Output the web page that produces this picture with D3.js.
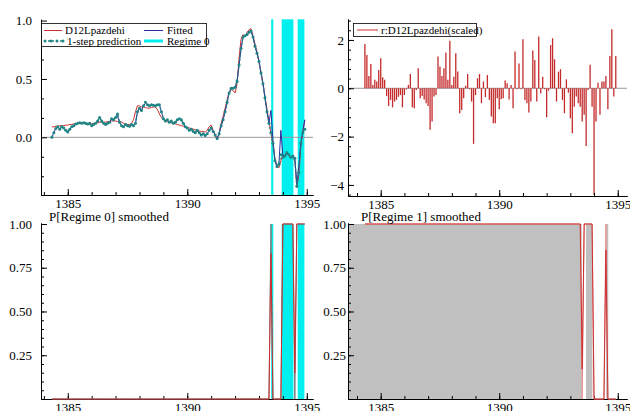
<!DOCTYPE html>
<html>
<head>
<meta charset="utf-8">
<script src="https://cdn.jsdelivr.net/npm/d3@7"></script>
<style>
  body { margin: 0; background: #fff; }
  svg { display: block; }
</style>
</head>
<body>
<svg id="chart" width="630" height="411"></svg>
<script>
// Monthly sample, first observation 1384(5)
const startYear = 1384;
const startMonth = 5;

// D12Lpazdehi (actual)
const actual = [
  0.09, 0.09, 0.095, 0.095, 0.10, 0.10, 0.10, 0.105, 0.105, 0.11,
  0.11, 0.115, 0.115, 0.12, 0.12, 0.12, 0.12, 0.115, 0.115, 0.11,
  0.115, 0.12, 0.12, 0.125, 0.13, 0.13, 0.13, 0.13, 0.135, 0.135,
  0.14, 0.14, 0.14, 0.135, 0.135, 0.13, 0.12, 0.115, 0.11, 0.11,
  0.12, 0.15, 0.22, 0.27, 0.27, 0.26, 0.26, 0.255, 0.25, 0.25,
  0.255, 0.26, 0.26, 0.24, 0.20, 0.17, 0.15, 0.14, 0.135, 0.13,
  0.125, 0.12, 0.115, 0.11, 0.105, 0.10, 0.095, 0.09, 0.085, 0.08,
  0.075, 0.07, 0.065, 0.06, 0.055, 0.05, 0.05, 0.045, 0.06, 0.09,
  0.105, 0.06, 0.02, -0.02, 0.04, 0.12, 0.18, 0.25, 0.32, 0.39,
  0.41, 0.40, 0.38, 0.46, 0.68, 0.84, 0.88, 0.86, 0.90, 0.92,
  0.93, 0.87, 0.80, 0.73, 0.65, 0.56, 0.46, 0.35, 0.24, 0.14,
  0.04, -0.06, -0.18, -0.24, -0.26, -0.20, -0.16, -0.15, -0.14, -0.15,
  -0.17, -0.17, -0.20, -0.43, -0.32, -0.08, 0.06, 0.15
];

// Fitted
const fitted = [
  0.00, 0.04, 0.075, 0.09, 0.07, 0.09, 0.08, 0.06, 0.045, 0.07,
  0.09, 0.10, 0.115, 0.12, 0.125, 0.12, 0.125, 0.12, 0.115, 0.12,
  0.10, 0.11, 0.12, 0.14, 0.17, 0.14, 0.12, 0.11, 0.12, 0.13,
  0.16, 0.15, 0.17, 0.18, 0.13, 0.10, 0.09, 0.11, 0.10, 0.095,
  0.11, 0.10, 0.12, 0.22, 0.25, 0.23, 0.27, 0.29, 0.28, 0.27,
  0.28, 0.275, 0.27, 0.28, 0.28, 0.22, 0.16, 0.14, 0.15, 0.13,
  0.14, 0.12, 0.13, 0.15, 0.16, 0.15, 0.12, 0.09, 0.08, 0.06,
  0.07, 0.05, 0.04, 0.06, 0.04, 0.02, 0.03, 0.015, 0.03, 0.06,
  0.08, 0.05, 0.02, -0.01, 0.03, 0.10, 0.15, 0.22, 0.30, 0.38,
  0.42, 0.42, 0.43, 0.48, 0.62, 0.76, 0.86, 0.87, 0.88, 0.90,
  0.91, 0.86, 0.78, 0.72, 0.65, 0.55, 0.46, 0.34, 0.22, 0.12,
  0.23, -0.02, -0.20, -0.25, -0.23, 0.06, -0.16, -0.16, -0.13, -0.15,
  -0.17, -0.16, -0.18, -0.40, -0.25, -0.05, 0.04, 0.15
];

// 1-step prediction
const predicted = [
  0.00, 0.04, 0.075, 0.09, 0.07, 0.09, 0.08, 0.06, 0.045, 0.07,
  0.09, 0.10, 0.115, 0.12, 0.125, 0.12, 0.125, 0.12, 0.115, 0.12,
  0.10, 0.11, 0.12, 0.14, 0.17, 0.14, 0.12, 0.11, 0.12, 0.13,
  0.16, 0.15, 0.17, 0.20, 0.13, 0.10, 0.09, 0.11, 0.10, 0.095,
  0.11, 0.10, 0.12, 0.22, 0.25, 0.23, 0.27, 0.30, 0.28, 0.27,
  0.28, 0.275, 0.27, 0.28, 0.28, 0.22, 0.16, 0.14, 0.15, 0.13,
  0.14, 0.12, 0.13, 0.15, 0.16, 0.15, 0.12, 0.09, 0.08, 0.06,
  0.07, 0.05, 0.04, 0.06, 0.04, 0.02, 0.03, 0.015, 0.03, 0.06,
  0.08, 0.05, 0.02, -0.01, 0.03, 0.10, 0.15, 0.22, 0.30, 0.38,
  0.42, 0.42, 0.43, 0.48, 0.62, 0.76, 0.86, 0.87, 0.88, 0.90,
  0.91, 0.86, 0.78, 0.72, 0.65, 0.55, 0.46, 0.34, 0.22, 0.12,
  0.04, -0.05, -0.20, -0.25, -0.23, -0.15, -0.17, -0.16, -0.13, -0.15,
  -0.17, -0.16, -0.18, -0.42, -0.30, -0.05, 0.04, 0.07
];

// r:D12Lpazdehi (scaled residuals)
const residuals = [
  1.83, 1.38, 0.51, 1.00, 0.14, 0.35, 0.28, 0.76, 1.24, 0.46,
  0.35, -0.32, -0.73, -0.48, -0.79, -0.55, -0.48, -0.35, -0.28, -0.79,
  -0.28, -0.05, 0.14, 0.59, -0.79, -0.83, -0.07, 0.83, -0.41, -0.32,
  -0.46, -0.62, -0.73, -1.72, -1.38, -0.34, -0.28, 1.31, 0.90, 0.51,
  0.83, 1.48, 0.35, 1.97, 0.14, 0.48, 1.45, 0.69, -1.03, -0.90,
  -0.41, 0.10, 0.59, -0.04, -0.55, -2.30, -0.28, 0.41, 0.59, -0.62,
  0.28, -0.37, 0.55, -0.48, -1.17, -1.45, -1.45, -0.41, -0.87, -0.45,
  -0.41, 0.32, 0.21, -0.46, 0.14, -0.83, 1.52, -0.04, 1.03, -0.04,
  2.03, -0.48, -0.62, -1.00, -0.55, 1.56, 1.17, -0.55, 2.14, -0.21,
  0.48, -0.04, -1.20, -0.10, 1.79, 2.07, 1.20, -0.55, 0.69, 0.79,
  -0.48, -1.03, 0.37, -0.18, -1.24, -1.86, -0.76, -0.34, -0.62, -0.76,
  -1.38, -1.10, -2.39, -0.07, 0.97, -0.76, -4.41, -1.38, 0.23, -1.10,
  0.28, 0.28, 0.51, -0.87, 1.34, 2.44, -0.34, 1.34
];

// P[Regime 0] smoothed (red) and second probability line (grey)
const p0Smoothed = [
  0, 0, 0, 0, 0, 0, 0, 0, 0, 0, 0, 0, 0, 0, 0, 0,
  0, 0, 0, 0, 0, 0, 0, 0, 0, 0, 0, 0, 0, 0, 0, 0,
  0, 0, 0, 0, 0, 0, 0, 0, 0, 0, 0, 0, 0, 0, 0, 0,
  0, 0, 0, 0, 0, 0, 0, 0, 0, 0, 0, 0, 0, 0, 0, 0,
  0, 0, 0, 0, 0, 0, 0, 0, 0, 0, 0, 0, 0, 0, 0, 0,
  0, 0, 0, 0, 0, 0, 0, 0, 0, 0, 0, 0, 0, 0, 0, 0,
  0, 0, 0, 0, 0, 0, 0, 0, 0, 0, 0, 0, 0, 0, 0.83, 0,
  0, 0, 0, 0, 1, 1, 1, 1, 1, 1, 0.15, 1, 1, 1, 1, 1
];
const p0Grey = [
  0, 0, 0, 0, 0, 0, 0, 0, 0, 0, 0, 0, 0, 0, 0, 0,
  0, 0, 0, 0, 0, 0, 0, 0, 0, 0, 0, 0, 0, 0, 0, 0,
  0, 0, 0, 0, 0, 0, 0, 0, 0, 0, 0, 0, 0, 0, 0, 0,
  0, 0, 0, 0, 0, 0, 0, 0, 0, 0, 0, 0, 0, 0, 0, 0,
  0, 0, 0, 0, 0, 0, 0, 0, 0, 0, 0, 0, 0, 0, 0, 0,
  0, 0, 0, 0, 0, 0, 0, 0, 0, 0, 0, 0, 0, 0, 0, 0,
  0, 0, 0, 0, 0, 0, 0, 0, 0, 0, 0, 0, 0, 0, 1, 0,
  0, 0, 0, 0, 1, 1, 1, 1, 1, 1, 0, 1, 1, 1, 1, 1
];

// P[Regime 1] smoothed (red) and second probability line (light)
const p1Smoothed = [
  1, 1, 1, 1, 1, 1, 1, 1, 1, 1, 1, 1, 1, 1, 1, 1,
  1, 1, 1, 1, 1, 1, 1, 1, 1, 1, 1, 1, 1, 1, 1, 1,
  1, 1, 1, 1, 1, 1, 1, 1, 1, 1, 1, 1, 1, 1, 1, 1,
  1, 1, 1, 1, 1, 1, 1, 1, 1, 1, 1, 1, 1, 1, 1, 1,
  1, 1, 1, 1, 1, 1, 1, 1, 1, 1, 1, 1, 1, 1, 1, 1,
  1, 1, 1, 1, 1, 1, 1, 1, 1, 1, 1, 1, 1, 1, 1, 1,
  1, 1, 1, 1, 1, 1, 1, 1, 1, 1, 1, 1, 1, 1, 0.17, 1,
  1, 1, 1, 1, 0, 0, 0, 0, 0, 0, 0.85, 0, 0, 0, 0, 0
];
const p1Grey = [
  1, 1, 1, 1, 1, 1, 1, 1, 1, 1, 1, 1, 1, 1, 1, 1,
  1, 1, 1, 1, 1, 1, 1, 1, 1, 1, 1, 1, 1, 1, 1, 1,
  1, 1, 1, 1, 1, 1, 1, 1, 1, 1, 1, 1, 1, 1, 1, 1,
  1, 1, 1, 1, 1, 1, 1, 1, 1, 1, 1, 1, 1, 1, 1, 1,
  1, 1, 1, 1, 1, 1, 1, 1, 1, 1, 1, 1, 1, 1, 1, 1,
  1, 1, 1, 1, 1, 1, 1, 1, 1, 1, 1, 1, 1, 1, 1, 1,
  1, 1, 1, 1, 1, 1, 1, 1, 1, 1, 1, 1, 1, 1, 0, 1,
  1, 1, 1, 1, 0, 0, 0, 0, 0, 0, 1, 0, 0, 0, 0, 0
];

// Classified regime periods (decimal years)
const regime0Spans = [[1393.51, 1393.60], [1393.95, 1394.44], [1394.62, 1394.90]];
const regime1Spans = [[1383.62, 1393.48], [1393.66, 1393.93], [1394.51, 1394.60]];

// Tick values
const yearTicks = d3.range(1384, 1396);
const yearLabels = [1385, 1390, 1395];
const levelTicks = [0, 0.5, 1.0];
const levelMinor = [-1/3, -1/6, 1/6, 1/3, 2/3, 5/6];
const residTicks = [-4, -2, 0, 2];
const residMinor = d3.range(-11, 8).map(k => k * 0.4);
const probTicks = [0.25, 0.5, 0.75, 1.0];
const probMinor = d3.range(1, 20).map(k => k * 0.05);

const dates = actual.map((d, i) => startYear + (startMonth - 1 + i) / 12);

const red = "#cc2f2f";
const blue = "#2a2aa0";
const teal = "#1f8585";
const cyan = "#00f0f0";
const serif = "'Liberation Serif', 'Times New Roman', 'DejaVu Serif', serif";
const fontSize = 13;

const svg = d3.select("#chart").attr("font-family", serif);

// Scales
const xL = d3.scaleLinear().domain([1383.88, 1395.26]).range([41, 313]);
const xR = d3.scaleLinear().domain([1383.62, 1395.39]).range([348, 627]);
const yTL = d3.scaleLinear().domain([-0.494, 1.011]).range([195, 19.3]);
const yTR = d3.scaleLinear().domain([-4.458, 2.867]).range([196, 19]);
const yB = d3.scaleLinear().domain([0, 1.0057]).range([399, 223]);

// Axes helper: ticks pointing inward, labels outside
function drawAxes(x, y, yMajor, yMinor, yFormat, yPad) {
  const x0 = x.range()[0];
  const yBase = y.range()[0];

  const gy = svg.append("g").attr("transform", `translate(${x0},0)`);
  gy.append("g")
    .call(d3.axisLeft(y).tickValues(yMinor).tickSize(-3).tickSizeOuter(0).tickFormat(""));
  gy.append("g")
    .call(d3.axisLeft(y).tickValues(yMajor).tickSize(-6).tickSizeOuter(0)
      .tickPadding(yPad).tickFormat(d3.format(yFormat)));

  const gx = svg.append("g").attr("transform", `translate(0,${yBase})`);
  gx.append("g")
    .call(d3.axisBottom(x).tickValues(yearTicks).tickSize(-3).tickSizeOuter(0).tickFormat(""));
  gx.append("g")
    .call(d3.axisBottom(x).tickValues(yearLabels).tickSize(-6).tickSizeOuter(0)
      .tickPadding(4).tickFormat(d3.format("d")));

  [gy, gx].forEach(g => {
    g.selectAll("g").attr("font-family", serif).attr("font-size", fontSize);
    g.selectAll("text").attr("fill", "#000").style("font-family", serif);
    g.selectAll(".domain").attr("stroke", "#000");
  });
}

// ---------- Top left: actual, fitted, prediction ----------
svg.append("g").selectAll("rect")
  .data(regime0Spans)
  .join("rect")
  .attr("x", d => xL(d[0]))
  .attr("width", d => xL(d[1]) - xL(d[0]))
  .attr("y", yTL.range()[1])
  .attr("height", yTL.range()[0] - yTL.range()[1])
  .attr("fill", cyan);

svg.append("line")
  .attr("x1", xL.range()[0]).attr("x2", xL.range()[1])
  .attr("y1", yTL(0)).attr("y2", yTL(0))
  .attr("stroke", "#9a9a9a");

const lineTL = d3.line().x((d, i) => xL(dates[i])).y(d => yTL(d));

svg.append("path").datum(actual)
  .attr("fill", "none").attr("stroke", red).attr("stroke-width", 1)
  .attr("d", lineTL);
svg.append("path").datum(fitted)
  .attr("fill", "none").attr("stroke", blue).attr("stroke-width", 1)
  .attr("d", lineTL);
svg.append("path").datum(predicted)
  .attr("fill", "none").attr("stroke", teal).attr("stroke-width", 1.4)
  .attr("stroke-dasharray", "2,2")
  .attr("d", lineTL);
svg.append("g").selectAll("circle")
  .data(predicted)
  .join("circle")
  .attr("cx", (d, i) => xL(dates[i]))
  .attr("cy", d => yTL(d))
  .attr("r", 1.5)
  .attr("fill", teal);

drawAxes(xL, yTL, levelTicks, levelMinor, ".1f", 9);

// Legend top left
const lg = svg.append("g").attr("font-size", 11);
lg.append("rect").attr("x", 41.5).attr("y", 23.5).attr("width", 165).attr("height", 23)
  .attr("fill", "#fff").attr("stroke", "#000").attr("stroke-width", 0.8);
lg.append("line").attr("x1", 44).attr("x2", 62).attr("y1", 30.5).attr("y2", 30.5)
  .attr("stroke", red);
lg.append("text").attr("x", 65).attr("y", 34).text("D12Lpazdehi");
lg.append("line").attr("x1", 144).attr("x2", 163).attr("y1", 30.5).attr("y2", 30.5)
  .attr("stroke", blue);
lg.append("text").attr("x", 167).attr("y", 34).text("Fitted");
lg.append("line").attr("x1", 44).attr("x2", 64).attr("y1", 41).attr("y2", 41)
  .attr("stroke", teal).attr("stroke-width", 1.4).attr("stroke-dasharray", "2,2");
lg.selectAll(".ldot").data([45, 51, 57, 63]).join("circle")
  .attr("cx", d => d).attr("cy", 41).attr("r", 1.5).attr("fill", teal);
lg.append("text").attr("x", 67).attr("y", 44.5).text("1-step prediction");
lg.append("line").attr("x1", 144).attr("x2", 163).attr("y1", 41).attr("y2", 41)
  .attr("stroke", cyan).attr("stroke-width", 3);
lg.append("text").attr("x", 167).attr("y", 44.5).text("Regime 0");

// ---------- Top right: scaled residuals ----------
svg.append("line")
  .attr("x1", xR.range()[0]).attr("x2", xR.range()[1])
  .attr("y1", yTR(0)).attr("y2", yTR(0))
  .attr("stroke", "#9a9a9a");

svg.append("g").selectAll("line")
  .data(residuals)
  .join("line")
  .attr("x1", (d, i) => xR(dates[i]))
  .attr("x2", (d, i) => xR(dates[i]))
  .attr("y1", yTR(0))
  .attr("y2", d => yTR(Math.max(d, yTR.domain()[0])))
  .attr("stroke", "#c42a2a")
  .attr("stroke-width", 1.3);

drawAxes(xR, yTR, residTicks, residMinor, "d", 4);

const lg2 = svg.append("g").attr("font-size", 11);
lg2.append("rect").attr("x", 353.5).attr("y", 23.5).attr("width", 123).attr("height", 13)
  .attr("fill", "#fff").attr("stroke", "#000").attr("stroke-width", 0.8);
lg2.append("line").attr("x1", 357).attr("x2", 378).attr("y1", 30).attr("y2", 30)
  .attr("stroke", red);
lg2.append("text").attr("x", 381).attr("y", 34).text("r:D12Lpazdehi(scaled)");

// ---------- Bottom left: P[Regime 0] smoothed ----------
svg.append("g").selectAll("rect")
  .data(regime0Spans)
  .join("rect")
  .attr("x", d => xL(d[0]))
  .attr("width", d => xL(d[1]) - xL(d[0]))
  .attr("y", yB(1))
  .attr("height", yB(0) - yB(1))
  .attr("fill", cyan);

drawAxes(xL, yB, probTicks, probMinor, ".2f", 9);

const lineBL = d3.line().x((d, i) => xL(dates[i])).y(d => yB(d));
svg.append("path").datum(p0Grey)
  .attr("fill", "none").attr("stroke", "#777").attr("stroke-width", 1)
  .attr("d", lineBL);
svg.append("path").datum(p0Smoothed)
  .attr("fill", "none").attr("stroke", red).attr("stroke-width", 1)
  .attr("d", lineBL);

svg.append("text").attr("x", 49).attr("y", 221).attr("font-size", fontSize)
  .text("P[Regime 0] smoothed");

// ---------- Bottom right: P[Regime 1] smoothed ----------
svg.append("g").selectAll("rect")
  .data(regime1Spans)
  .join("rect")
  .attr("x", d => xR(Math.max(d[0], xR.domain()[0])))
  .attr("width", d => xR(d[1]) - xR(Math.max(d[0], xR.domain()[0])))
  .attr("y", yB(1))
  .attr("height", yB(0) - yB(1))
  .attr("fill", "#c0c0c0");

drawAxes(xR, yB, probTicks, probMinor, ".2f", 2);

const lineBR = d3.line().x((d, i) => xR(dates[i])).y(d => yB(d));
svg.append("path").datum(p1Grey)
  .attr("fill", "none").attr("stroke", "#e89090").attr("stroke-width", 1)
  .attr("d", lineBR);
svg.append("path").datum(p1Smoothed)
  .attr("fill", "none").attr("stroke", red).attr("stroke-width", 1)
  .attr("d", lineBR);

svg.append("text").attr("x", 361).attr("y", 221).attr("font-size", fontSize)
  .text("P[Regime 1] smoothed");
</script>
</body>
</html>
